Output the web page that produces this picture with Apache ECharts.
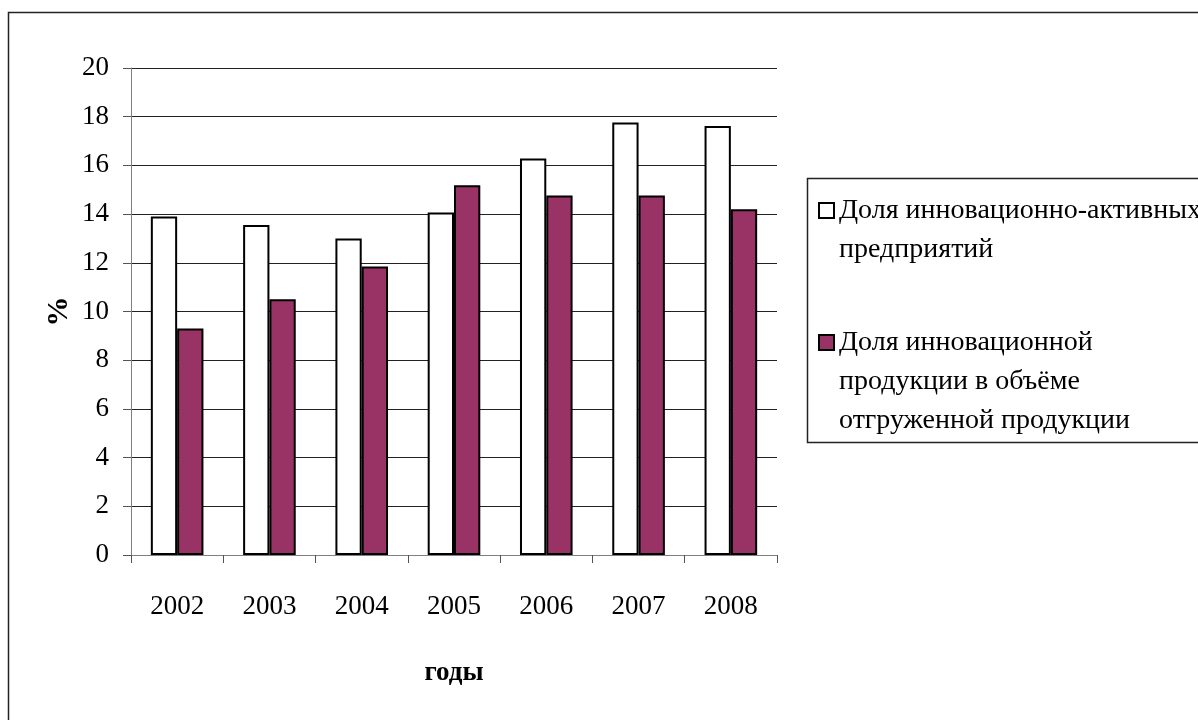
<!DOCTYPE html>
<html>
<head>
<meta charset="utf-8">
<script src="https://cdn.jsdelivr.net/npm/echarts@6/dist/echarts.min.js"></script>
<style>html,body{margin:0;padding:0;background:#fff;}#c{width:1198px;height:720px;}</style>
</head>
<body>
<div id="c"></div>
<script>
const years = ['2002','2003','2004','2005','2006','2007','2008'];
const seriesNames = ['Доля инновационно-активных предприятий', 'Доля инновационной продукции в объёме отгруженной продукции'];
const legendLabels = ['\nДоля инновационно-активных\nпредприятий', '\n\nДоля инновационной\nпродукции в объёме\nотгруженной продукции'];
const activeShare = [13.9, 13.55, 13.0, 14.07, 16.28, 17.76, 17.62];
const productShare = [9.3, 10.5, 11.85, 15.18, 14.76, 14.76, 14.2];
const yTicks = {min: 0, max: 20, interval: 2};
const axisNames = {x: 'годы', y: '%'};

const FONT = 'Liberation Serif';
const chart = echarts.init(document.getElementById('c'), null, {renderer: 'canvas'});
const legendText = {fontFamily: FONT, fontSize: 28, color: '#000', lineHeight: 39};
const legendCommon = {
  left: 818, orient: 'vertical', itemWidth: 15, itemHeight: 15, itemGap: 0, padding: 0,
  icon: 'rect', textStyle: legendText,
  formatter: n => legendLabels[seriesNames.indexOf(n)]
};
chart.setOption({
  animation: false,
  backgroundColor: '#fff',
  grid: {left: 131, right: 421, top: 68, bottom: 165, containLabel: false},
  graphic: [
    {type: 'rect', shape: {x: 8.5, y: 12.5, width: 1400, height: 900}, style: {fill: 'none', stroke: '#222', lineWidth: 1.5}, silent: true},
    {type: 'rect', shape: {x: 807.5, y: 178.5, width: 600, height: 264}, style: {fill: 'none', stroke: '#222', lineWidth: 1.5}, silent: true}
  ],
  legend: [
    Object.assign({top: 152, data: [seriesNames[0]]}, legendCommon),
    Object.assign({top: 245, data: [seriesNames[1]]}, legendCommon)
  ],
  xAxis: {
    type: 'category', data: years,
    name: axisNames.x, nameLocation: 'middle', nameGap: 105, nameMoveOverlap: false,
    nameTextStyle: {fontFamily: FONT, fontSize: 27, fontWeight: 'bold', color: '#000'},
    axisLine: {lineStyle: {color: '#808080', width: 1}},
    axisTick: {show: true, length: 8, lineStyle: {color: '#555'}},
    axisLabel: {fontFamily: FONT, fontSize: 27, color: '#000', margin: 38},
    splitLine: {show: false}
  },
  yAxis: {
    type: 'value', min: yTicks.min, max: yTicks.max, interval: yTicks.interval,
    name: axisNames.y, nameLocation: 'middle', nameGap: 57, nameRotate: 90, nameMoveOverlap: false,
    nameTextStyle: {fontFamily: FONT, fontSize: 30, fontWeight: 'bold', color: '#000'},
    axisLine: {show: true, lineStyle: {color: '#808080', width: 1}},
    axisTick: {show: true, length: 8, lineStyle: {color: '#555'}},
    axisLabel: {fontFamily: FONT, fontSize: 27, color: '#000', margin: 22},
    splitLine: {show: true, lineStyle: {color: '#222', width: 1}}
  },
  series: [
    {name: seriesNames[0], type: 'bar', data: activeShare, barGap: '0%', barCategoryGap: '43%',
     itemStyle: {color: '#ffffff', borderColor: '#000', borderWidth: 2}},
    {name: seriesNames[1], type: 'bar', data: productShare, barGap: '0%', barCategoryGap: '43%',
     itemStyle: {color: '#993366', borderColor: '#000', borderWidth: 2}}
  ]
});
</script>
</body>
</html>
